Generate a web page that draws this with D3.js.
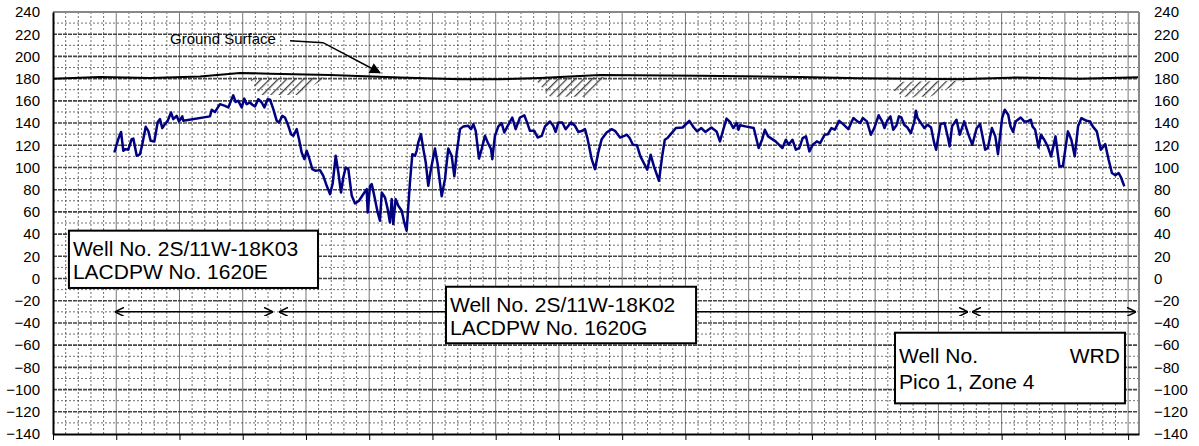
<!DOCTYPE html>
<html>
<head>
<meta charset="utf-8">
<script src="https://d3js.org/d3.v7.min.js"></script>
<style>
  body { margin: 0; background: #fff; }
  text { font-family: Arial, "Liberation Sans", sans-serif; fill: #000; }
</style>
</head>
<body>
<script>
// hydrograph readings: decimal year, water level elevation (ft)
var years = [1924.85,1925.16,1925.38,1925.56,1925.75,1925.95,1926.22,1926.35,1926.62,1926.88,1927.06,1927.33,1927.53,1927.72,1928.01,1928.28,1928.46,1928.64,1928.85,1929.07,1929.33,1929.51,1929.78,1929.96,1930.22,1930.30,
  1932.41,1932.55,1932.81,1933.20,1933.60,1933.86,1934.07,1934.25,1934.44,1934.65,1934.92,1935.12,1935.31,1935.57,1935.76,1935.97,1936.23,1936.50,1936.71,1936.97,1937.16,1937.42,1937.69,1937.87,1938.13,1938.34,1938.56,1938.82,1939.00,1939.27,1939.45,1939.66,1939.87,1940.06,1940.24,1940.50,1940.77,
  1941.11,1941.37,1941.64,1941.90,1942.11,1942.35,1942.56,1942.77,1942.95,1943.14,1943.35,1943.62,1943.88,1944.19,1944.45,1944.80,1944.88,1945.06,1945.20,1945.40,1945.67,1945.85,1945.99,1946.25,1946.46,1946.64,1946.78,1946.90,1947.09,1947.30,1947.57,1947.77,1947.96,
  1948.22,1948.41,1948.62,1948.75,1948.88,1949.09,1949.28,1949.47,1949.67,1949.88,1950.20,1950.41,1950.73,1950.99,1951.25,1951.52,1951.73,1951.92,1952.18,1952.44,1952.83,1953.05,1953.23,1953.42,1953.68,1953.89,1954.15,1954.37,1954.63,1954.73,1954.94,
  1955.21,1955.47,1955.68,1955.95,1956.31,1956.58,1956.92,1957.26,1957.45,1957.71,1958.05,1958.32,1958.64,1958.90,1959.29,1959.55,1959.74,1959.95,1960.26,1960.53,1960.95,1961.27,1961.53,1961.85,1962.06,1962.27,1962.59,1962.85,1963.11,1963.38,1963.77,1964.17,1964.43,1964.83,1965.17,
  1965.37,1965.59,1965.85,1966.17,1966.44,1966.71,1966.98,1967.25,1967.51,1967.91,1968.18,1968.37,1968.58,1968.84,1969.25,1969.78,1970.31,1970.66,1970.93,1971.26,1971.57,1972.05,1972.46,1972.73,1972.99,1973.25,1973.52,1973.79,1974.06,1974.19,1974.32,1974.73,
  1975.40,1975.79,1976.06,1976.28,1976.54,1977.13,1977.67,1977.94,1978.15,1978.46,1978.73,1979.00,1979.27,1979.53,1979.80,1980.07,1980.39,1980.66,1981.00,1981.27,1981.54,1981.81,1982.16,1982.47,1982.88,1983.28,1983.60,1983.81,1984.02,1984.35,1984.66,1984.93,
  1985.28,1985.55,1985.74,1985.95,1986.21,1986.43,1986.69,1986.88,1987.07,1987.29,1987.55,1987.82,1988.09,1988.22,1988.35,1988.62,1988.89,1989.15,1989.42,1989.64,1989.82,1990.17,1990.49,1990.76,1990.89,1991.08,1991.43,1991.69,1992.04,1992.36,1992.68,
  1993.03,1993.30,1993.70,1993.91,1994.23,1994.50,1994.71,1995.04,1995.25,1995.52,1995.70,1995.91,1996.10,1996.51,1996.78,1997.04,1997.31,1997.44,1997.65,1997.92,1998.11,1998.37,1998.64,1998.91,1999.26,1999.57,1999.84,
  2000.24,2000.51,2000.78,2001.04,2001.31,2001.72,2001.99,2002.20,2002.52,2002.84,2003.19,2003.46,2003.72,2003.99,2004.25,2004.44,2004.70];
var levels = [113.5,125.5,132,115,116.5,116,125.5,126,110.5,112,121,136.6,133,124,123.4,141,143.5,135.4,139,142,149.5,143.5,146.5,141.4,146,142,
  146,152,150,157,155.5,154,160,165,159,160,154,162,157,158.5,156.5,155,161.5,158.5,154,161.5,161,152.5,142,140.5,146.5,145,139,130,128.5,134.5,125.5,113.5,107.5,115,109,98.5,97,
  97.6,92.5,83.5,76,85.5,110.5,95.5,77.5,91,100,98.5,74.5,67.6,70,74.5,80.5,59.5,83,85,74.5,59.5,52,77.5,73,62.5,50.5,71.5,49,71.5,65.5,61,50.5,43,
  86.5,112,110.5,115,122.5,130,116.5,104.5,83.5,98.5,117,103,74,89.5,117,110.5,92,113.5,134.5,137,137.5,134.5,139,133,108,116.5,128.5,122.5,116.5,107.5,128.5,
  137,140,131.5,137.5,145,134.5,145,147,141.5,133,133,127,128.5,137,141.4,137.5,132,140.5,140.5,134.5,140.5,137.5,132,133,134.5,125.5,107.5,98.5,113.5,125.5,131.5,134.5,133,127,128.5,
  129.5,126.5,120.5,120,110,104,98,111.5,101,88,111.5,125,126.5,130,135.5,136,142,136,132.5,135.5,132,136,132.5,123.5,134,144,141,135.5,140,134,138,137,
  135.5,117.5,125,134,128,123.5,117.5,125,120.5,125,116,117.5,126.5,128,114.5,120.5,123.5,122,129.5,130,135.5,134,142,139,134.5,144.5,141.5,140,144.5,141.5,129.5,135.5,
  147,141.5,135.5,142,146,134,138,146,145,138.5,136,131,141,151,144.5,140,135.5,138.5,136,123.5,116,139,140,126.5,119,137,143,129.5,141.5,130,120.5,
  135.5,139,116,117.5,135.5,128,112,144.5,152,147.5,137,132,141.5,145,141.5,141.5,143,137,134,118,129.5,125,119,110,128,101,101,
  132.5,125,110,137,144.5,142,141.5,137,132.5,116,121,107,95,93,95,91,83];

// ground surface elevation
var groundYears = [1920,1923.72,1927.67,1931.63,1934.78,1937.16,1941.90,1947.43,1952.18,1955.34,1958.50,1963.25,1971.15,1979.06,1983.80,1991.71,1996.21,2001.19,2005.86];
var groundLevels = [180,181.5,180.5,182,185,184.5,183.3,181,179.5,179.4,180.5,183.3,182.5,181.5,180.3,179.5,181,180,181.2];

// hatched patches under the ground line (year, elevation)
var patchA = [[1935.57,179.7],[1936.37,165.3],[1939.29,165.3],[1941.66,181.2]];
var patchB = [[1958.11,179.4],[1959.29,163.7],[1962.46,163.7],[1964.04,181.7]];
var patchC = [[1986.33,170.7],[1987.20,163.7],[1989.34,163.7],[1992.10,178.2],[1987.20,177.2]];

// well record spans (start year, end year)
var spans = [[1924.90,1937.39],[1937.87,1992.34],[1992.66,2005.62]];
var spanLevel = -30;

var boxes = [
  {x0:1921.26, x1:1940.95, top:43.1, bottom:-8.5, lines:["Well No. 2S/11W-18K03","LACDPW No. 1620E"]},
  {x0:1951.07, x1:1970.84, top:-7.4, bottom:-58.3, lines:["Well No. 2S/11W-18K02","LACDPW No. 1620G"]},
  {x0:1986.57, x1:2004.75, top:-48.8, bottom:-112.4, lines:["Well No.","Pico 1, Zone 4"], right:"WRD"}
];

var yTicks = d3.range(-140, 241, 20);
var xDomain = [1920, 2005.86];
var yDomain = [-140, 240];

var width = 1199, height = 446;
var padL = 53, padR = 1139, padT = 12, padB = 434;

var svg = d3.select('body').append('svg')
  .attr('width', width)
  .attr('height', height);

var x = d3.scaleLinear().domain(xDomain).range([padL, padR]);
var y = d3.scaleLinear().domain(yDomain).range([padB, padT]);

var defs = svg.append('defs');
var pat = defs.append('pattern')
  .attr('id', 'hatch')
  .attr('patternUnits', 'userSpaceOnUse')
  .attr('width', 6).attr('height', 6)
  .attr('patternTransform', 'rotate(45)');
pat.append('line')
  .attr('x1', 0).attr('y1', 0).attr('x2', 0).attr('y2', 6)
  .attr('stroke', '#444').attr('stroke-width', 2.6);

defs.append('marker')
  .attr('id', 'open')
  .attr('viewBox', '0 0 10 10')
  .attr('refX', 10).attr('refY', 5)
  .attr('markerUnits', 'userSpaceOnUse')
  .attr('markerWidth', 9).attr('markerHeight', 9)
  .attr('orient', 'auto-start-reverse')
  .append('path')
  .attr('d', 'M0,0 L10,5 L0,10')
  .attr('fill', 'none').attr('stroke', '#000').attr('stroke-width', 1.6);

defs.append('marker')
  .attr('id', 'solid')
  .attr('viewBox', '0 0 10 10')
  .attr('refX', 9).attr('refY', 5)
  .attr('markerUnits', 'userSpaceOnUse')
  .attr('markerWidth', 13).attr('markerHeight', 11)
  .attr('orient', 'auto')
  .append('path')
  .attr('d', 'M0,0 L10,5 L0,10 Z')
  .attr('fill', '#000');

// grid
var grid = svg.append('g');
var minorX = d3.range(1921, xDomain[1], 1).filter(function(d) { return d % 5 !== 0; });
var majorX = d3.range(1925, xDomain[1], 5);
grid.selectAll('.vminor').data(minorX).enter().append('line')
  .attr('x1', function(d) { return x(d); }).attr('x2', function(d) { return x(d); })
  .attr('y1', padT).attr('y2', padB)
  .attr('stroke', '#333').attr('stroke-dasharray', '2,2').attr('stroke-opacity', 0.7);
grid.selectAll('.vmajor').data(majorX).enter().append('line')
  .attr('x1', function(d) { return x(d); }).attr('x2', function(d) { return x(d); })
  .attr('y1', padT).attr('y2', padB)
  .attr('stroke', '#777');
var minorY = d3.range(-130, 240, 20);
var majorY = d3.range(-120, 240, 20);
grid.selectAll('.hminor').data(minorY).enter().append('line')
  .attr('x1', padL).attr('x2', padR)
  .attr('y1', function(d) { return y(d); }).attr('y2', function(d) { return y(d); })
  .attr('stroke', '#333').attr('stroke-dasharray', '2,2').attr('stroke-opacity', 0.7);
grid.selectAll('.hmajor').data(majorY).enter().append('line')
  .attr('x1', padL).attr('x2', padR)
  .attr('y1', function(d) { return y(d); }).attr('y2', function(d) { return y(d); })
  .attr('stroke', '#444').attr('stroke-width', 1.6).attr('stroke-dasharray', '4,1');

// hatched patches
svg.selectAll('.patch').data([patchA, patchB, patchC]).enter().append('path')
  .attr('d', d3.line().x(function(d) { return x(d[0]); }).y(function(d) { return y(d[1]); }).curve(d3.curveLinearClosed))
  .attr('fill', 'url(#hatch)');

// ground surface
svg.append('path')
  .datum(d3.zip(groundYears, groundLevels))
  .attr('d', d3.line().x(function(d) { return x(d[0]); }).y(function(d) { return y(d[1]); }))
  .attr('fill', 'none').attr('stroke', '#000').attr('stroke-width', 2);

// water level
svg.append('path')
  .datum(d3.zip(years, levels))
  .attr('d', d3.line().x(function(d) { return x(d[0]); }).y(function(d) { return y(d[1]); }))
  .attr('fill', 'none').attr('stroke', '#000080').attr('stroke-width', 2.5)
  .attr('stroke-linejoin', 'round');

// frame
svg.append('line').attr('x1', padL).attr('x2', padR).attr('y1', padT).attr('y2', padT)
  .attr('stroke', '#888').attr('stroke-width', 2);
svg.append('line').attr('x1', padR).attr('x2', padR).attr('y1', padT).attr('y2', padB)
  .attr('stroke', '#888').attr('stroke-width', 2);

// axes
var xAxis = svg.append('g')
  .attr('transform', 'translate(0,' + padB + ')')
  .call(d3.axisBottom(x).tickValues(d3.range(1920, 2006, 5)).tickSize(6).tickSizeOuter(0).tickFormat(''));
xAxis.select('.domain').attr('stroke-width', 2);

var yLeft = svg.append('g')
  .attr('transform', 'translate(' + padL + ',0)')
  .call(d3.axisLeft(y).tickValues(yTicks).tickSize(0).tickPadding(13));
yLeft.select('.domain').attr('stroke-width', 2);

var yRight = svg.append('g')
  .attr('transform', 'translate(' + padR + ',0)')
  .call(d3.axisRight(y).tickValues(yTicks).tickSize(0).tickPadding(15));
yRight.select('.domain').remove();
svg.selectAll('.tick text').style('font-size', '15px').style('font-family', 'Arial, "Liberation Sans", sans-serif');

// record spans
svg.selectAll('.span').data(spans).enter().append('line')
  .attr('x1', function(d) { return x(d[0]); }).attr('x2', function(d) { return x(d[1]); })
  .attr('y1', y(spanLevel)).attr('y2', y(spanLevel))
  .attr('stroke', '#000').attr('stroke-width', 1.5)
  .attr('marker-start', 'url(#open)').attr('marker-end', 'url(#open)');

// label boxes
var bx = svg.selectAll('.box').data(boxes).enter().append('g');
bx.append('rect')
  .attr('x', function(d) { return x(d.x0); })
  .attr('y', function(d) { return y(d.top); })
  .attr('width', function(d) { return x(d.x1) - x(d.x0); })
  .attr('height', function(d) { return y(d.bottom) - y(d.top); })
  .attr('fill', '#fff').attr('stroke', '#000').attr('stroke-width', 2);
bx.each(function(d) {
  var g = d3.select(this);
  var first = d.right ? 30 : 25;
  var gap = d.right ? 26 : 23;
  d.lines.forEach(function(t, i) {
    g.append('text')
      .attr('x', x(d.x0) + 4)
      .attr('y', y(d.top) + first + i * gap)
      .style('font-size', '21px')
      .text(t);
  });
  if (d.right) {
    g.append('text')
      .attr('x', x(d.x1) - 5)
      .attr('y', y(d.top) + first)
      .attr('text-anchor', 'end')
      .style('font-size', '21px')
      .text(d.right);
  }
});

// ground surface note
svg.append('text')
  .attr('x', x(1929.25)).attr('y', y(211.2))
  .style('font-size', '15px')
  .text('Ground Surface');
svg.append('path')
  .datum([[1938.74, 214.2], [1941.35, 212.4], [1945.85, 185.3]])
  .attr('d', d3.line().x(function(d) { return x(d[0]); }).y(function(d) { return y(d[1]); }))
  .attr('fill', 'none').attr('stroke', '#000').attr('stroke-width', 1.5)
  .attr('marker-end', 'url(#solid)');
</script>
</body>
</html>
